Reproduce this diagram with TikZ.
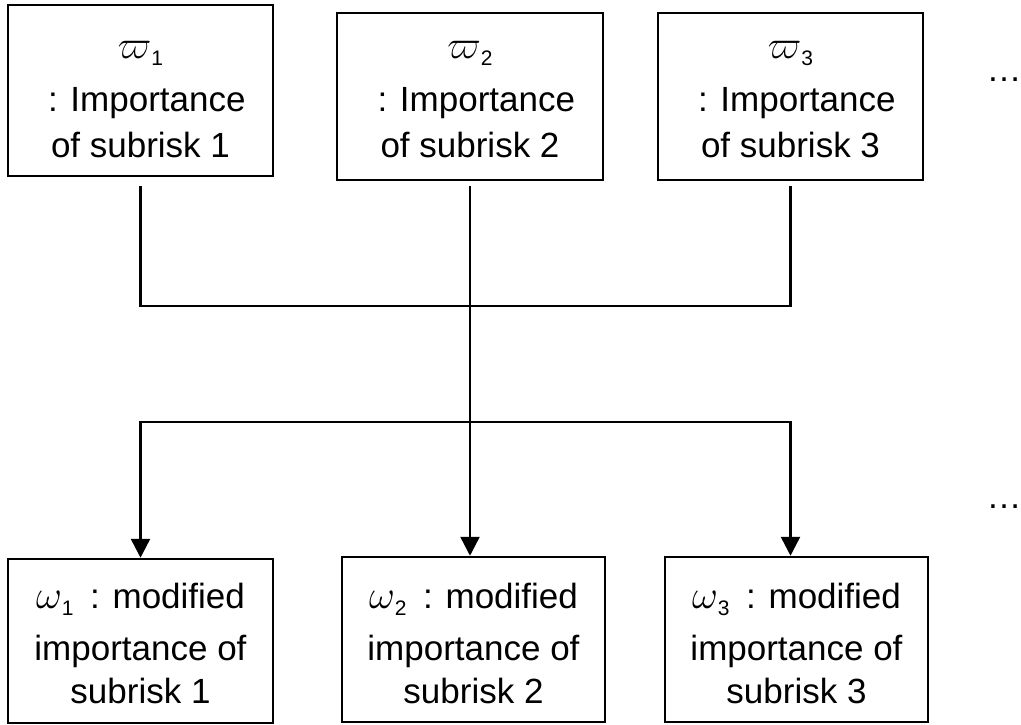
\RequirePackage{fix-cm}
\documentclass[tikz,border=0pt]{standalone}
\usepackage{fontspec}
\setmainfont{Liberation Sans}
\usetikzlibrary{arrows.meta}
% Greek letter set a little larger than the running text
\newcommand{\gk}[1]{{\fontsize{40}{40}\selectfont$#1$}}
% small upright index set below the Greek letter
\newcommand{\subidx}[1]{\raisebox{-7pt}{\fontsize{21}{21}\selectfont #1}}
% full-width colon: a one-em box with the colon centred
\newcommand{\fwcolon}{\makebox[1em]{:}}

\begin{document}
\begin{tikzpicture}[x=1pt,y=-1pt,
  box/.style={draw, line width=2.5pt, inner sep=0pt},
  ln/.style={anchor=base, inner sep=0pt, font=\fontsize{35}{42}\selectfont},
  wire/.style={line width=2.5pt},
  arr/.style={wire, -{Triangle[width=19pt,length=19pt]}}]
\useasboundingbox (0,0) rectangle (1021,724);

% upper row: importance of each subrisk
\node[box, minimum width=265pt, minimum height=171pt] (t1) at (140.5,90.5) {};
\node[box, minimum width=266pt, minimum height=167pt] (t2) at (470,96.5) {};
\node[box, minimum width=265pt, minimum height=167pt] (t3) at (790.5,96.5) {};

\node[ln] (t1a) at (140.5,58) {\gk{\varpi}\subidx{1}};
\node[ln] (t1b) at (140.5,111) {\fwcolon Importance};
\node[ln] (t1c) at (140.5,157) {of subrisk 1};

\node[ln] (t2a) at (470,58) {\gk{\varpi}\subidx{2}};
\node[ln] (t2b) at (470,111) {\fwcolon Importance};
\node[ln] (t2c) at (470,157) {of subrisk 2};

\node[ln] (t3a) at (790.5,58) {\gk{\varpi}\subidx{3}};
\node[ln] (t3b) at (790.5,111) {\fwcolon Importance};
\node[ln] (t3c) at (790.5,157) {of subrisk 3};

\node[ln] (dotsT) at (1004,81) {…};

% lower row: modified importance of each subrisk
\node[box, minimum width=265pt, minimum height=164pt] (b1) at (140.5,641) {};
\node[box, minimum width=263pt, minimum height=165pt] (b2) at (473.5,639.5) {};
\node[box, minimum width=263pt, minimum height=165pt] (b3) at (796.5,639.5) {};

\node[ln] (b1a) at (140.5,608) {\gk{\omega}\subidx{1}\hspace{4pt}\fwcolon modified};
\node[ln] (b1b) at (140.5,660) {importance of};
\node[ln] (b1c) at (140.5,703) {subrisk 1};

\node[ln] (b2a) at (473.5,608) {\gk{\omega}\subidx{2}\hspace{4pt}\fwcolon modified};
\node[ln] (b2b) at (473.5,660) {importance of};
\node[ln] (b2c) at (473.5,703) {subrisk 2};

\node[ln] (b3a) at (796.5,608) {\gk{\omega}\subidx{3}\hspace{4pt}\fwcolon modified};
\node[ln] (b3b) at (796.5,660) {importance of};
\node[ln] (b3c) at (796.5,703) {subrisk 3};

\node[ln] (dotsB) at (1004,508) {…};

% junctions of the connector tree
\coordinate (jT) at (470,306);
\coordinate (jB) at (470,422);

\draw[wire] ([yshift=-9pt]t1.south) |- (jT) -| ([yshift=-5pt]t3.south);
\draw[arr] ([yshift=-5pt]t2.south) -- (jT |- b2.north);
\draw[arr] (jB) -| (b1.north);
\draw[arr] (jB) -| (t3.south |- b3.north);
\end{tikzpicture}
\end{document}
